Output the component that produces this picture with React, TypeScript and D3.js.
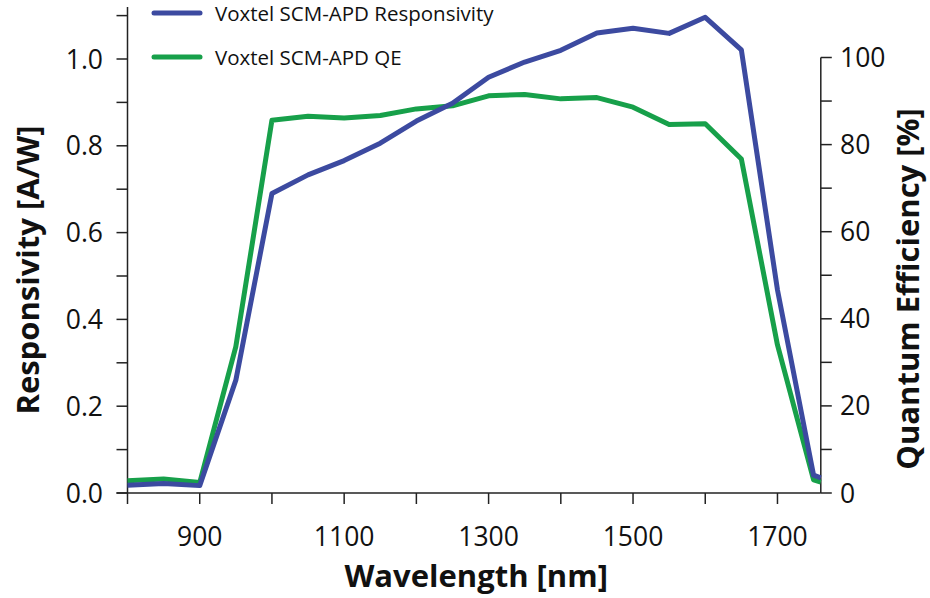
import { useRef, useEffect } from 'react';
import * as d3 from 'd3';

const wavelengths = [800, 850, 900, 950, 1000, 1050, 1100, 1150, 1200, 1250, 1300, 1350, 1400, 1450, 1500, 1550, 1600, 1650, 1700, 1750, 1760];
const responsivity = [0.018, 0.022, 0.017, 0.26, 0.69, 0.733, 0.766, 0.806, 0.857, 0.898, 0.958, 0.993, 1.02, 1.06, 1.071, 1.059, 1.096, 1.021, 0.468, 0.041, 0.035];
const qe = [2.8, 3.2, 2.4, 33.6, 85.6, 86.5, 86.1, 86.7, 88.2, 88.9, 91.2, 91.5, 90.5, 90.8, 88.6, 84.6, 84.8, 76.7, 34, 3, 2.5];
const xTicks = [800, 900, 1000, 1100, 1200, 1300, 1400, 1500, 1600, 1700];
const xTickLabels = [900, 1100, 1300, 1500, 1700];
const leftTicks = [0, 0.1, 0.2, 0.3, 0.4, 0.5, 0.6, 0.7, 0.8, 0.9, 1.0, 1.1];
const leftTickLabels = [0, 0.2, 0.4, 0.6, 0.8, 1.0];
const rightTicks = [0, 10, 20, 30, 40, 50, 60, 70, 80, 90, 100];
const rightTickLabels = [0, 20, 40, 60, 80, 100];
const seriesNames = ['Voxtel SCM-APD Responsivity', 'Voxtel SCM-APD QE'];

const BLUE = '#3c4aa0';
const GREEN = '#17a04a';

export default function App() {
  const ref = useRef<SVGSVGElement>(null);

  useEffect(() => {
    const W = 930, H = 598;
    const font = '"Open Sans", sans-serif';

    const x = d3.scaleLinear().domain([800, 1760]).range([127.5, 820.8]);
    const yL = d3.scaleLinear().domain([0, 1]).range([493, 59]);
    const yR = d3.scaleLinear().domain([0, 100]).range([493, 57.5]);

    const svg = d3.select(ref.current)
      .attr('width', W).attr('height', H)
      .style('font-family', font);
    svg.selectAll('*').remove();

    const axisColor = '#222';

    // left axis
    svg.append('line')
      .attr('x1', x(800)).attr('x2', x(800))
      .attr('y1', yL(0)).attr('y2', yL(1.12))
      .attr('stroke', axisColor).attr('stroke-width', 1.5);
    svg.append('g').selectAll('line')
      .data(leftTicks)
      .join('line')
        .attr('x1', x(800) - 11).attr('x2', x(800))
        .attr('y1', d => yL(d)).attr('y2', d => yL(d))
        .attr('stroke', axisColor).attr('stroke-width', 1.5);
    svg.append('g').selectAll('text')
      .data(leftTickLabels)
      .join('text')
        .attr('x', 103).attr('y', d => yL(d))
        .attr('dy', '0.36em')
        .attr('text-anchor', 'end')
        .attr('font-size', 26.5)
        .attr('fill', '#111')
        .text(d => d3.format('.1f')(d));

    // right axis
    svg.append('line')
      .attr('x1', x(1760)).attr('x2', x(1760))
      .attr('y1', yR(0)).attr('y2', yR(100))
      .attr('stroke', axisColor).attr('stroke-width', 1.5);
    svg.append('g').selectAll('line')
      .data(rightTicks)
      .join('line')
        .attr('x1', x(1760)).attr('x2', x(1760) + 11)
        .attr('y1', d => yR(d)).attr('y2', d => yR(d))
        .attr('stroke', axisColor).attr('stroke-width', 1.5);
    svg.append('g').selectAll('text')
      .data(rightTickLabels)
      .join('text')
        .attr('x', 840).attr('y', d => yR(d))
        .attr('dy', '0.36em')
        .attr('font-size', 26.5)
        .attr('fill', '#111')
        .text(d => d);

    // bottom axis
    svg.append('line')
      .attr('x1', x(800) - 11).attr('x2', x(1760))
      .attr('y1', yL(0)).attr('y2', yL(0))
      .attr('stroke', axisColor).attr('stroke-width', 1.5);
    svg.append('g').selectAll('line')
      .data(xTicks)
      .join('line')
        .attr('x1', d => x(d)).attr('x2', d => x(d))
        .attr('y1', yL(0)).attr('y2', yL(0) + 11)
        .attr('stroke', axisColor).attr('stroke-width', 1.5);
    svg.append('g').selectAll('text')
      .data(xTickLabels)
      .join('text')
        .attr('x', d => x(d)).attr('y', 546)
        .attr('text-anchor', 'middle')
        .attr('font-size', 26.5)
        .attr('fill', '#111')
        .text(d => d);

    // axis titles
    svg.append('text')
      .attr('x', (x(800) + x(1760)) / 2 + 2).attr('y', 587)
      .attr('text-anchor', 'middle')
      .attr('font-size', 31).attr('font-weight', 700)
      .attr('fill', '#111')
      .text('Wavelength [nm]');
    svg.append('text')
      .attr('transform', 'translate(39,270) rotate(-90)')
      .attr('text-anchor', 'middle')
      .attr('font-size', 31).attr('font-weight', 700)
      .attr('fill', '#111')
      .text('Responsivity [A/W]');
    svg.append('text')
      .attr('transform', 'translate(919,289) rotate(-90)')
      .attr('text-anchor', 'middle')
      .attr('font-size', 31).attr('font-weight', 700)
      .attr('fill', '#111')
      .text('Quantum Efficiency [%]');

    // series
    const idx = d3.range(wavelengths.length);
    const lineR = d3.line<number>().x(i => x(wavelengths[i])).y(i => yL(responsivity[i]));
    const lineQ = d3.line<number>().x(i => x(wavelengths[i])).y(i => yR(qe[i]));

    svg.append('path')
      .attr('d', lineQ(idx))
      .attr('fill', 'none').attr('stroke', GREEN)
      .attr('stroke-width', 5).attr('stroke-linejoin', 'round');
    svg.append('path')
      .attr('d', lineR(idx))
      .attr('fill', 'none').attr('stroke', BLUE)
      .attr('stroke-width', 5).attr('stroke-linejoin', 'round');

    // legend
    const legend = svg.append('g');
    const colors = [BLUE, GREEN];
    const ys = [13, 57];
    seriesNames.forEach((name, i) => {
      legend.append('line')
        .attr('x1', 154).attr('x2', 200)
        .attr('y1', ys[i]).attr('y2', ys[i])
        .attr('stroke', colors[i]).attr('stroke-width', 5)
        .attr('stroke-linecap', 'round');
      legend.append('text')
        .attr('x', 215).attr('y', ys[i] + 8)
        .attr('font-size', 20.5)
        .attr('fill', '#111')
        .text(name);
    });
  }, []);

  return <svg ref={ref} style={{ position: 'absolute', left: 0, top: 0 }}></svg>;
}
